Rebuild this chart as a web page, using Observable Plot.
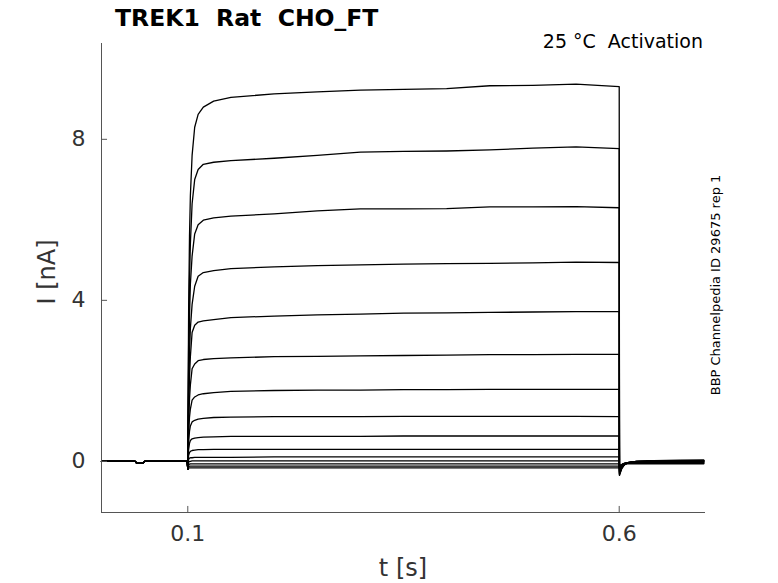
<!DOCTYPE html>
<html><head><meta charset="utf-8">
<script src="https://cdn.jsdelivr.net/npm/d3@7"></script>
<script src="https://cdn.jsdelivr.net/npm/@observablehq/plot@0.6"></script>
<style>body{margin:0;background:#fff}#chart{width:778px;height:583px}</style>
</head><body><div id="chart"></div>
<script>
// ---- data (time in s, current in nA) ----
const xTicks = [0.1, 0.6];
const yTicks = [0, 4, 8];
const xDomain = [0, 0.7];
const yDomain = [-1.27, 10.38];

// holding segment (shared by all sweeps)
const preTime = [0, 0.039, 0.041, 0.048, 0.050, 0.0995];
const preI    = [0, 0, -0.05, -0.05, 0, 0];

// test pulse segment
const stepTime = [0.1, 0.1005, 0.101, 0.102, 0.103, 0.105, 0.108, 0.112, 0.118, 0.13, 0.15, 0.2, 0.25, 0.3, 0.35, 0.4, 0.45, 0.5, 0.55, 0.6];
const stepI = [
  [-0.2, 2.0, 3.8, 5.6, 6.6, 7.6, 8.3, 8.62, 8.8, 8.95, 9.04, 9.13, 9.18, 9.22, 9.24, 9.26, 9.33, 9.34, 9.37, 9.31],
  [-0.2, 1.5, 2.9, 4.5, 5.4, 6.4, 7.0, 7.25, 7.38, 7.43, 7.47, 7.53, 7.6, 7.68, 7.70, 7.71, 7.74, 7.78, 7.81, 7.77],
  [-0.2, 1.2, 2.3, 3.6, 4.4, 5.1, 5.65, 5.88, 5.99, 6.05, 6.09, 6.15, 6.22, 6.27, 6.27, 6.28, 6.32, 6.32, 6.33, 6.30],
  [-0.2, 0.9, 1.7, 2.7, 3.3, 3.9, 4.35, 4.6, 4.69, 4.74, 4.79, 4.83, 4.86, 4.88, 4.90, 4.91, 4.92, 4.93, 4.95, 4.94],
  [-0.2, 0.7, 1.3, 2.1, 2.6, 3.2, 3.38, 3.46, 3.49, 3.52, 3.57, 3.61, 3.64, 3.66, 3.68, 3.69, 3.70, 3.71, 3.72, 3.72],
  [-0.2, 0.5, 1.0, 1.55, 1.9, 2.3, 2.42, 2.5, 2.53, 2.55, 2.57, 2.6, 2.61, 2.62, 2.63, 2.64, 2.65, 2.65, 2.66, 2.66],
  [-0.2, 0.35, 0.7, 1.1, 1.3, 1.52, 1.6, 1.65, 1.68, 1.71, 1.74, 1.76, 1.77, 1.77, 1.78, 1.78, 1.79, 1.79, 1.79, 1.79],
  [-0.2, 0.25, 0.5, 0.75, 0.88, 0.98, 1.02, 1.05, 1.07, 1.09, 1.1, 1.11, 1.11, 1.11, 1.12, 1.12, 1.12, 1.12, 1.12, 1.11],
  [-0.2, 0.15, 0.3, 0.45, 0.52, 0.56, 0.58, 0.59, 0.6, 0.61, 0.62, 0.62, 0.62, 0.62, 0.63, 0.63, 0.63, 0.63, 0.63, 0.63],
  [-0.2, 0.05, 0.15, 0.22, 0.25, 0.27, 0.28, 0.29, 0.29, 0.3, 0.3, 0.3, 0.3, 0.3, 0.3, 0.3, 0.3, 0.3, 0.3, 0.3],
  [-0.2, 0.0, 0.05, 0.08, 0.09, 0.09, 0.1, 0.1, 0.1, 0.1, 0.1, 0.11, 0.11, 0.11, 0.11, 0.11, 0.11, 0.11, 0.11, 0.11],
  [-0.2, -0.05, -0.02, 0.0, 0.0, 0.01, 0.01, 0.01, 0.01, 0.01, 0.01, 0.01, 0.01, 0.01, 0.01, 0.01, 0.01, 0.01, 0.01, 0.01],
  [-0.2, -0.1, -0.08, -0.07, -0.06, -0.06, -0.06, -0.06, -0.06, -0.06, -0.06, -0.06, -0.06, -0.06, -0.06, -0.06, -0.06, -0.06, -0.06, -0.06],
  [-0.2, -0.15, -0.13, -0.12, -0.12, -0.12, -0.12, -0.12, -0.12, -0.12, -0.12, -0.12, -0.12, -0.12, -0.12, -0.12, -0.12, -0.12, -0.12, -0.12],
  [-0.2, -0.18, -0.17, -0.16, -0.16, -0.16, -0.16, -0.16, -0.16, -0.16, -0.16, -0.16, -0.16, -0.16, -0.16, -0.16, -0.16, -0.16, -0.16, -0.16]
];

// tail segment after the pulse
const postTime = [0.6003, 0.601, 0.603, 0.606, 0.61, 0.62, 0.64, 0.67, 0.698];
const postI = [
  [-0.35, -0.3, -0.18, -0.09, -0.04, 0.0, 0.02, 0.03, 0.03],
  [-0.33, -0.28, -0.17, -0.08, -0.04, 0.0, 0.02, 0.02, 0.03],
  [-0.32, -0.27, -0.16, -0.08, -0.03, 0.0, 0.01, 0.02, 0.02],
  [-0.3, -0.25, -0.15, -0.07, -0.03, 0.0, 0.01, 0.01, 0.02],
  [-0.28, -0.23, -0.14, -0.07, -0.03, -0.01, 0.0, 0.01, 0.01],
  [-0.26, -0.21, -0.13, -0.07, -0.03, -0.01, 0.0, 0.0, 0.01],
  [-0.24, -0.2, -0.12, -0.06, -0.03, -0.01, 0.0, 0.0, 0.0],
  [-0.22, -0.18, -0.11, -0.06, -0.03, -0.01, -0.01, 0.0, 0.0],
  [-0.2, -0.16, -0.1, -0.06, -0.03, -0.02, -0.01, -0.01, -0.01],
  [-0.18, -0.15, -0.09, -0.05, -0.03, -0.02, -0.01, -0.01, -0.01],
  [-0.16, -0.13, -0.08, -0.05, -0.03, -0.02, -0.02, -0.02, -0.02],
  [-0.15, -0.12, -0.08, -0.05, -0.04, -0.03, -0.03, -0.03, -0.03],
  [-0.14, -0.11, -0.08, -0.05, -0.04, -0.04, -0.04, -0.04, -0.04],
  [-0.13, -0.11, -0.08, -0.06, -0.05, -0.05, -0.05, -0.05, -0.05],
  [-0.12, -0.1, -0.08, -0.06, -0.06, -0.06, -0.06, -0.06, -0.06]
];

const titleText = "TREK1  Rat  CHO_FT";
const subText = "25 °C  Activation";
const sideText = "BBP Channelpedia ID 29675 rep 1";
const xLabel = "t [s]";
const yLabel = "I [nA]";

// ---- build rows ----
const rows = [];
stepI.forEach((sweep, k) => {
  preTime.forEach((t, j) => rows.push({sweep: k, t, i: preI[j]}));
  stepTime.forEach((t, j) => rows.push({sweep: k, t, i: sweep[j]}));
  postTime.forEach((t, j) => rows.push({sweep: k, t, i: postI[k][j]}));
});

const W = 778, H = 583, mL = 101, mR = 73, mT = 43, mB = 71;
const spine = "#555";

const plot = Plot.plot({
  width: W, height: H,
  marginLeft: mL, marginRight: mR, marginTop: mT, marginBottom: mB,
  x: {domain: xDomain},
  y: {domain: yDomain},
  style: {fontFamily: "DejaVu Sans", background: "white", color: "#333"},
  marks: [
    Plot.line(rows, {x: "t", y: "i", z: "sweep", stroke: "black", strokeWidth: 1.3}),
    Plot.ruleX([xDomain[0]], {stroke: spine, strokeWidth: 1}),
    Plot.ruleY([yDomain[0]], {stroke: spine, strokeWidth: 1}),
    Plot.ruleX(xTicks, {y1: yDomain[0], y2: yDomain[0] + 0.15, stroke: spine}),
    Plot.ruleY(yTicks, {x1: xDomain[0], x2: xDomain[0] + 0.007, stroke: spine}),
    Plot.axisX(xTicks, {tickSize: 0, tickPadding: 13, fontSize: 22, fill: "#333", label: null, tickFormat: d => String(d)}),
    Plot.axisY(yTicks, {tickSize: 0, tickPadding: 16, fontSize: 22, fill: "#333", label: null, tickFormat: d => String(d)})
  ]
});
document.getElementById("chart").appendChild(plot);

const svg = d3.select(plot);
svg.append("text").attr("x", 115).attr("y", 26).attr("text-anchor", "start")
  .attr("font-family", "DejaVu Sans").attr("font-weight", "bold").attr("font-size", 23.5)
  .attr("fill", "black").text(titleText);
svg.append("text").attr("x", 703).attr("y", 48).attr("text-anchor", "end")
  .attr("font-family", "DejaVu Sans").attr("font-size", 19).attr("fill", "black").text(subText);
svg.append("text").attr("x", 403).attr("y", 576).attr("text-anchor", "middle")
  .attr("font-family", "DejaVu Sans").attr("font-size", 24).attr("fill", "#333").text(xLabel);
svg.append("text").attr("transform", "translate(47,272) rotate(-90)").attr("text-anchor", "middle")
  .attr("dy", "0.35em")
  .attr("font-family", "DejaVu Sans").attr("font-size", 24).attr("fill", "#333").text(yLabel);
svg.append("text").attr("transform", "translate(715,285) rotate(-90)").attr("text-anchor", "middle")
  .attr("dy", "0.35em")
  .attr("font-family", "DejaVu Sans").attr("font-size", 13).attr("fill", "black").text(sideText);
</script>
</body></html>
